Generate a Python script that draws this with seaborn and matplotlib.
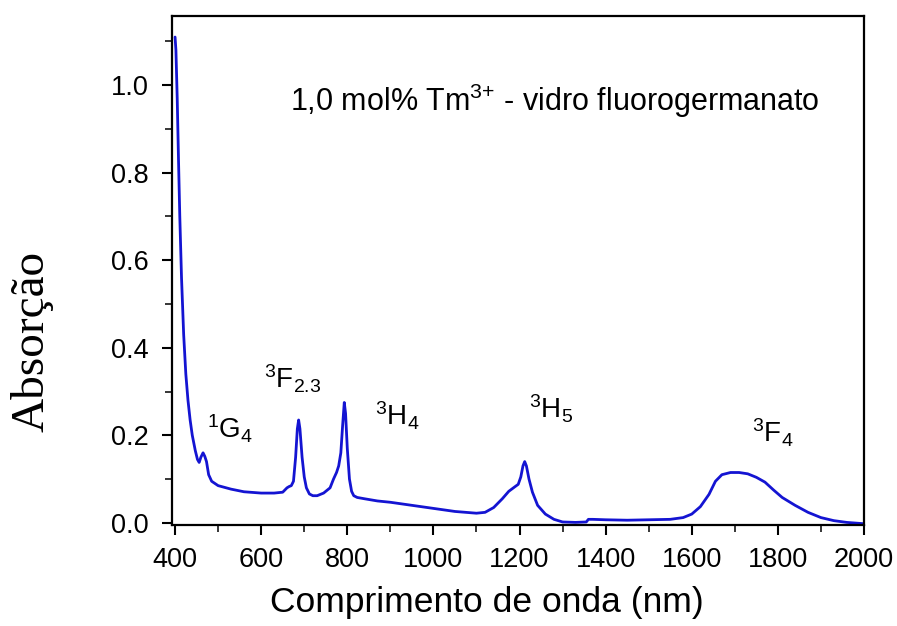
"""Absorption spectrum of Tm3+ doped fluorogermanate glass."""

import matplotlib
matplotlib.use("Agg")
import matplotlib.pyplot as plt
import pandas as pd
import seaborn as sns
from matplotlib.ticker import MultipleLocator

# wavelength (nm) and absorbance
wavelength = [
    400, 402, 405, 408, 411, 415, 420, 425, 430, 435, 440, 447, 452, 456, 460, 465, 469, 473, 478, 485,
    500, 530, 560, 600, 630, 650, 660, 665, 670, 675, 680, 684, 687, 690, 695, 700, 705, 712, 720, 730,
    745, 760, 768, 775, 780, 785, 789, 793, 796, 800, 805, 810, 815, 823, 840, 870, 900, 950, 1000, 1050,
    1100, 1120, 1140, 1160, 1175, 1190, 1197, 1203, 1208, 1212, 1216, 1222, 1230, 1242, 1260, 1280, 1300,
    1330, 1355, 1360, 1370, 1400, 1450, 1500, 1550, 1580, 1600, 1620, 1640, 1655, 1670, 1690, 1710, 1730,
    1750, 1770, 1790, 1810, 1840, 1870, 1900, 1930, 1960, 2000,
]
absorbance = [
    1.11, 1.08, 0.97, 0.83, 0.70, 0.56, 0.43, 0.34, 0.28, 0.235, 0.20, 0.165, 0.145, 0.138, 0.15, 0.16,
    0.152, 0.14, 0.11, 0.095, 0.085, 0.077, 0.071, 0.068, 0.068, 0.07, 0.08, 0.083, 0.085, 0.095, 0.15,
    0.215, 0.235, 0.215, 0.15, 0.105, 0.08, 0.066, 0.062, 0.062, 0.068, 0.08, 0.10, 0.115, 0.13, 0.16,
    0.22, 0.275, 0.25, 0.17, 0.10, 0.072, 0.062, 0.058, 0.055, 0.05, 0.047, 0.04, 0.033, 0.026, 0.022,
    0.024, 0.035, 0.055, 0.072, 0.083, 0.088, 0.105, 0.13, 0.14, 0.13, 0.10, 0.07, 0.04, 0.02, 0.008,
    0.002, 0.001, 0.002, 0.008, 0.008, 0.007, 0.006, 0.007, 0.008, 0.012, 0.02, 0.037, 0.065, 0.095,
    0.11, 0.115, 0.115, 0.112, 0.104, 0.093, 0.075, 0.058, 0.04, 0.024, 0.012, 0.005, 0.001, -0.002,
]

# transition labels and where they sit (data coords)
transitions = [r"$\mathregular{^1G_4}$", r"$\mathregular{^3F_{2.3}}$", r"$\mathregular{^3H_4}$",
               r"$\mathregular{^3H_5}$", r"$\mathregular{^3F_4}$"]
label_x = [474, 606, 864, 1223, 1739]
label_y = [0.215, 0.33, 0.245, 0.26, 0.205]


def main() -> None:
    sns.set_theme(style="ticks")
    plt.rcParams["font.family"] = ["Liberation Sans", "DejaVu Sans"]
    plt.rcParams["mathtext.fontset"] = "custom"
    plt.rcParams["mathtext.rm"] = "Liberation Sans"
    plt.rcParams["text.color"] = "black"

    df = pd.DataFrame({"wl": wavelength, "abs": absorbance})

    fig = plt.figure(figsize=(8.97, 6.26), dpi=100)
    ax = fig.add_axes([0.1918, 0.1613, 0.7714, 0.8131])
    sns.lineplot(data=df, x="wl", y="abs", ax=ax, color="#1414d2", linewidth=2.0, estimator=None)

    ax.set_xlim(393, 2000)
    ax.set_ylim(-0.005, 1.158)
    ax.xaxis.set_major_locator(MultipleLocator(200))
    ax.xaxis.set_minor_locator(MultipleLocator(100))
    ax.yaxis.set_major_locator(MultipleLocator(0.2))
    ax.yaxis.set_minor_locator(MultipleLocator(0.1))
    ax.yaxis.set_major_formatter(plt.FuncFormatter(lambda v, _: f"{v:.1f}"))
    ax.tick_params(which="major", direction="out", length=7, width=1.5, labelsize=19.5, colors="black")
    ax.tick_params(axis="x", which="major", pad=9)
    ax.tick_params(axis="y", which="major", pad=10)
    ax.tick_params(which="minor", direction="out", length=5, width=1.3)
    for s in ax.spines.values():
        s.set_linewidth(1.6)
        s.set_color("black")

    ax.set_xlabel("Comprimento de onda (nm)", fontsize=25.5, color="black", va="center")
    ax.xaxis.set_label_coords(0.455, -0.153)
    ax.set_ylabel("")
    fig.text(0.036, 0.454, "Absorção", fontsize=34, rotation=90, ha="center", va="center",
             family=["Liberation Serif", "DejaVu Serif"])

    ax.text(667, 0.965, r"1,0 mol% Tm$\mathregular{^{3{+}}}$ - vidro fluorogermanato",
            fontsize=22, va="center", ha="left")
    for lab, x, y in zip(transitions, label_x, label_y):
        ax.text(x, y, lab, fontsize=20, va="center", ha="left")

    fig.savefig("out.png", dpi=100)
    plt.close(fig)


if __name__ == "__main__":
    main()
